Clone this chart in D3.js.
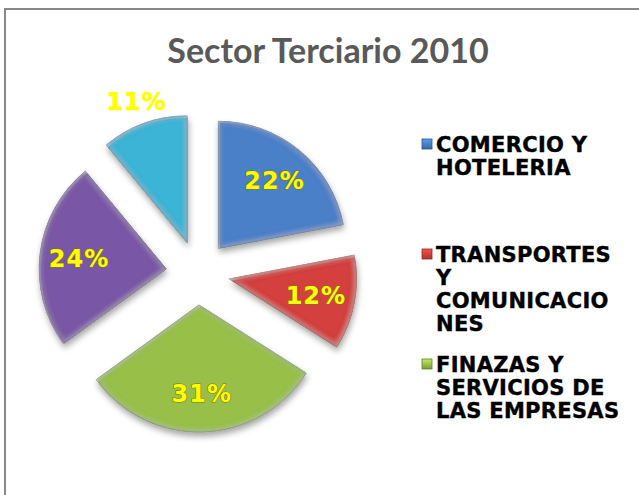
<!DOCTYPE html>
<html>
<head>
<meta charset="utf-8">
<script src="https://cdn.jsdelivr.net/npm/d3@7"></script>
<style>
  body { margin: 0; background: #fff; }
  svg { display: block; }
</style>
</head>
<body>
<script>
// data
const categories = [
  "COMERCIO Y HOTELERIA",
  "TRANSPORTES Y COMUNICACIONES",
  "FINAZAS Y SERVICIOS DE LAS EMPRESAS",
  "SERVICIOS SOCIALES Y PERSONALES",
  "OTROS SERVICIOS"
];
const values = [22, 12, 31, 24, 11];
const labels = ["22%", "12%", "31%", "24%", "11%"];
const title = "Sector Terciario 2010";

const palette = ["#4880c8", "#d3403c", "#98c04a", "#7a57a6", "#3ab4d5"];

const width = 639, height = 495;
const cx = 198, cy = 273, radius = 127, explode = 32;

const svg = d3.select("body").append("svg")
  .attr("width", width)
  .attr("height", height);

const defs = svg.append("defs");

// bevel-ish look: dark inner edge + light top-left edge + soft drop shadow
const f = defs.append("filter").attr("id", "bevel")
  .attr("x", "-20%").attr("y", "-20%").attr("width", "140%").attr("height", "140%");
f.append("feGaussianBlur").attr("in", "SourceAlpha").attr("stdDeviation", 3).attr("result", "blur");
f.append("feComposite").attr("in", "SourceAlpha").attr("in2", "blur")
  .attr("operator", "arithmetic").attr("k2", 1).attr("k3", -1).attr("result", "edge");
f.append("feFlood").attr("flood-color", "#000").attr("flood-opacity", 0.6).attr("result", "dark");
f.append("feComposite").attr("in", "dark").attr("in2", "edge").attr("operator", "in").attr("result", "darkEdge");
f.append("feOffset").attr("in", "edge").attr("dx", 2).attr("dy", 2).attr("result", "edgeOff");
f.append("feComposite").attr("in", "edge").attr("in2", "edgeOff").attr("operator", "out").attr("result", "hiMask");
f.append("feFlood").attr("flood-color", "#fff").attr("flood-opacity", 0.55).attr("result", "light");
f.append("feComposite").attr("in", "light").attr("in2", "hiMask").attr("operator", "in").attr("result", "hiEdge");
f.append("feGaussianBlur").attr("in", "SourceAlpha").attr("stdDeviation", 3).attr("result", "sblur");
f.append("feOffset").attr("in", "sblur").attr("dx", 1).attr("dy", 4).attr("result", "soff");
f.append("feFlood").attr("flood-color", "#000").attr("flood-opacity", 0.35).attr("result", "sc");
f.append("feComposite").attr("in", "sc").attr("in2", "soff").attr("operator", "in").attr("result", "shadow");
const m = f.append("feMerge");
m.append("feMergeNode").attr("in", "shadow");
m.append("feMergeNode").attr("in", "SourceGraphic");
m.append("feMergeNode").attr("in", "darkEdge");
m.append("feMergeNode").attr("in", "hiEdge");

// chart frame (cut off at right and bottom like the original)
svg.append("rect")
  .attr("x", 5).attr("y", 9)
  .attr("width", 700).attr("height", 600)
  .attr("fill", "none")
  .attr("stroke", "#888")
  .attr("stroke-width", 2);

svg.append("text")
  .attr("x", 328)
  .attr("y", 63)
  .attr("text-anchor", "middle")
  .style("font-family", "Lato, 'Open Sans', sans-serif")
  .style("font-weight", "bold")
  .style("font-size", "34px")
  .style("fill", "#595959")
  .text(title);

const color = d3.scaleOrdinal().domain(categories).range(palette);

const pie = d3.pie().sort(null).value(d => d.value);
const rows = categories.map((c, i) => ({ name: c, value: values[i], label: labels[i] }));
const arcs = pie(rows);

const arc = d3.arc().innerRadius(0).outerRadius(radius);

function dir(d) {
  const a = (d.startAngle + d.endAngle) / 2;
  return [Math.sin(a), -Math.cos(a)];
}
// small slices get their label outside the pie
const isSmall = d => (d.endAngle - d.startAngle) < 0.72;

const plot = svg.append("g").attr("transform", `translate(${cx},${cy})`);

const slice = plot.selectAll(".slice")
  .data(arcs)
  .enter().append("g")
  .attr("class", "slice")
  .attr("transform", d => {
    const [dx, dy] = dir(d);
    return `translate(${dx * explode},${dy * explode})`;
  });

slice.append("path")
  .attr("d", arc)
  .attr("fill", d => color(d.data.name))
  .attr("stroke", d => d3.color(color(d.data.name)).darker(1))
  .attr("stroke-width", 0.8)
  .attr("filter", "url(#bevel)");

slice.append("text")
  .attr("transform", d => {
    const [dx, dy] = dir(d);
    const r = isSmall(d) ? radius + 23 : 88;
    return `translate(${dx * r},${dy * r})`;
  })
  .attr("text-anchor", "middle")
  .attr("dy", "0.36em")
  .style("font-family", "'DejaVu Sans', sans-serif")
  .style("font-weight", "bold")
  .style("font-size", "24px")
  .style("letter-spacing", "1px")
  .style("fill", "#ffff00")
  .style("stroke", d => isSmall(d) ? "#ffff00" : "#7a7a10")
  .style("stroke-width", d => isSmall(d) ? "0.6px" : "1.2px")
  .style("stroke-linejoin", "round")
  .style("paint-order", "stroke")
  .text(d => d.data.label);

// legend: fixed slots, entries that don't fit are dropped (like the original)
const legendX = 422, legendTop = 152, slot = 110, lineH = 23, legendBottom = 440, maxW = 190;
const legend = svg.append("g").attr("class", "legend");

function wrap(textSel, str, maxWidth) {
  const measure = s => { textSel.text(s); return textSel.node().getComputedTextLength(); };
  const lines = [];
  let line = "";
  str.split(" ").forEach(w => {
    const tryLine = line ? line + " " + w : w;
    if (measure(tryLine) <= maxWidth) { line = tryLine; return; }
    if (line) lines.push(line);
    while (measure(w) > maxWidth) {
      let k = w.length;
      while (k > 1 && measure(w.slice(0, k)) > maxWidth) k--;
      lines.push(w.slice(0, k));
      w = w.slice(k);
    }
    line = w;
  });
  if (line) lines.push(line);
  textSel.text(null);
  return lines;
}

const swatch = defs.selectAll(".sw")
  .data(categories)
  .enter().append("linearGradient")
  .attr("id", (d, i) => "sw" + i)
  .attr("x1", 0).attr("y1", 0).attr("x2", 0).attr("y2", 1);
swatch.append("stop").attr("offset", 0).attr("stop-color", d => d3.color(color(d)).brighter(0.6));
swatch.append("stop").attr("offset", 1).attr("stop-color", d => d3.color(color(d)).darker(0.6));

categories.forEach((c, i) => {
  const y0 = legendTop + i * slot;
  if (y0 > legendBottom) return;
  const g = legend.append("g");
  g.append("rect")
    .attr("x", legendX).attr("y", y0 - 13)
    .attr("width", 10).attr("height", 10)
    .attr("fill", `url(#sw${i})`)
    .attr("stroke", d3.color(color(c)).darker(1.2))
    .attr("stroke-width", 0.8);
  const t = g.append("text")
    .attr("x", legendX + 14)
    .attr("y", y0)
    .style("font-family", "'DejaVu Sans', sans-serif")
    .style("font-weight", "bold")
    .style("font-size", "21px")
    .style("letter-spacing", "0.3px")
    .style("fill", "#000")
    .style("stroke", "#000")
    .style("stroke-width", "0.4px");
  const lines = wrap(t, c, maxW);
  t.selectAll("tspan")
    .data(lines)
    .enter().append("tspan")
    .attr("x", legendX + 14)
    .attr("y", (d, j) => y0 + j * lineH)
    .text(d => d);
});
</script>
</body>
</html>
